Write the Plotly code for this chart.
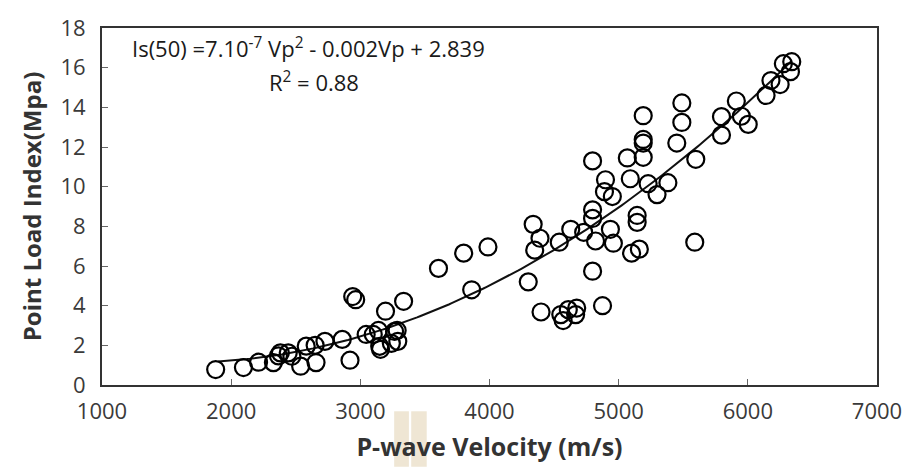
import plotly.graph_objects as go
import numpy as np

# P-wave velocity (m/s) and point load index (MPa)
vp = [1880, 2095, 2212, 2327, 2366, 2381, 2442, 2470, 2538, 2581, 2650, 2657, 2726, 2860,
      2920, 2941, 2964, 3045, 3100, 3140, 3156, 3150, 3195, 3240, 3265, 3290, 3285, 3335,
      3605, 3800, 3988, 3862, 4300, 4338, 4391, 4350, 4399, 4540, 4552, 4570, 4610, 4675,
      4667, 4629, 4729, 4798, 4798, 4821, 4936, 4959, 4798, 4875, 4798, 4898, 4890, 4951,
      5067, 5090, 5228, 5381, 5297, 5143, 5143, 5100, 5160, 5190, 5190, 5190, 5190, 5589,
      5450, 5489, 5489, 5597, 5796, 5796, 5911, 5950, 6003, 6141, 6179, 6250, 6275, 6340,
      6330]
is50 = [0.78, 0.88, 1.15, 1.13, 1.47, 1.62, 1.62, 1.45, 0.95, 1.96, 2.00, 1.13, 2.20, 2.30,
        1.25, 4.46, 4.30, 2.55, 2.55, 2.75, 1.80, 1.95, 3.72, 2.10, 2.70, 2.20, 2.75, 4.22,
        5.88, 6.65, 6.96, 4.80, 5.20, 8.10, 7.40, 6.80, 3.68, 7.20, 3.55, 3.25, 3.80, 3.88,
        3.55, 7.85, 7.70, 8.83, 8.40, 7.26, 7.85, 7.15, 5.74, 4.00, 11.30, 10.35, 9.75, 9.50,
        11.45, 10.40, 10.15, 10.20, 9.60, 8.55, 8.20, 6.65, 6.85, 13.58, 12.38, 12.20, 11.48, 7.20,
        12.20, 14.22, 13.24, 11.38, 13.53, 12.60, 14.32, 13.55, 13.14, 14.60, 15.35, 15.15, 16.20, 16.30,
        15.80]

# trend line coefficients (a*Vp^2 + b*Vp + c) as drawn
trend_coef = [6.79e-7, -0.00218, 2.874]
trend_range = [1900, 6340]

x_ticks = [1000, 2000, 3000, 4000, 5000, 6000, 7000]
y_ticks = [0, 2, 4, 6, 8, 10, 12, 14, 16, 18]

eq_text = "Is(50) =7.10<sup>-7</sup> Vp<sup>2</sup> - 0.002Vp + 2.839"
r2_text = "R<sup>2</sup> = 0.88"

xt = np.linspace(trend_range[0], trend_range[1], 200)
yt = np.polyval(trend_coef, xt)

FONT = "Open Sans"
TXT = "#3a3a3a"

fig = go.Figure()
fig.add_trace(go.Scatter(x=xt, y=yt, mode="lines",
                         line=dict(color="#111111", width=2), hoverinfo="skip"))
fig.add_trace(go.Scatter(x=vp, y=is50, mode="markers",
                         marker=dict(symbol="circle-open", size=17, color="#000000",
                                     line=dict(width=2.2, color="#000000"))))

fig.update_layout(
    width=914, height=469,
    margin=dict(l=102, r=30, t=18, b=84),
    paper_bgcolor="white", plot_bgcolor="white",
    showlegend=False,
    font=dict(family=FONT, color=TXT, size=20),
    annotations=[
        dict(text=eq_text, x=0.267, y=0.946, xref="paper", yref="paper",
             xanchor="center", yanchor="middle", showarrow=False,
             font=dict(family=FONT, size=22, color="#1a1a1a")),
        dict(text=r2_text, x=0.274, y=0.850, xref="paper", yref="paper",
             xanchor="center", yanchor="middle", showarrow=False,
             font=dict(family=FONT, size=22, color="#1a1a1a")),
    ],
    shapes=[
        dict(type="rect", xref="paper", yref="paper", x0=0.377, x1=0.396, y0=-0.229, y1=-0.0736,
             fillcolor="#efe6d4", line=dict(width=0), layer="below"),
        dict(type="rect", xref="paper", yref="paper", x0=0.399, x1=0.419, y0=-0.229, y1=-0.0736,
             fillcolor="#efe6d4", line=dict(width=0), layer="below"),
    ],
)
fig.update_xaxes(range=[1000, 7000], tickvals=x_ticks, ticks="inside", ticklen=6,
                 tickcolor="#666666", showgrid=False, zeroline=False,
                 showline=True, linecolor="#333333", linewidth=2, mirror=True,
                 tickfont=dict(size=22, color=TXT), ticklabelstandoff=6,
                 title=dict(text="<b>P-wave Velocity (m/s)</b>", standoff=14,
                            font=dict(size=25, color="#333333")))
fig.update_yaxes(range=[0, 18], tickvals=y_ticks, ticks="inside", ticklen=6,
                 tickcolor="#666666", showgrid=False, zeroline=False,
                 showline=True, linecolor="#333333", linewidth=2, mirror=True,
                 tickfont=dict(size=22, color=TXT), ticklabelstandoff=10,
                 title=dict(text="<b>Point Load Index(Mpa)</b>", standoff=12,
                            font=dict(size=24, color="#333333")))

fig.write_html("out.html")
